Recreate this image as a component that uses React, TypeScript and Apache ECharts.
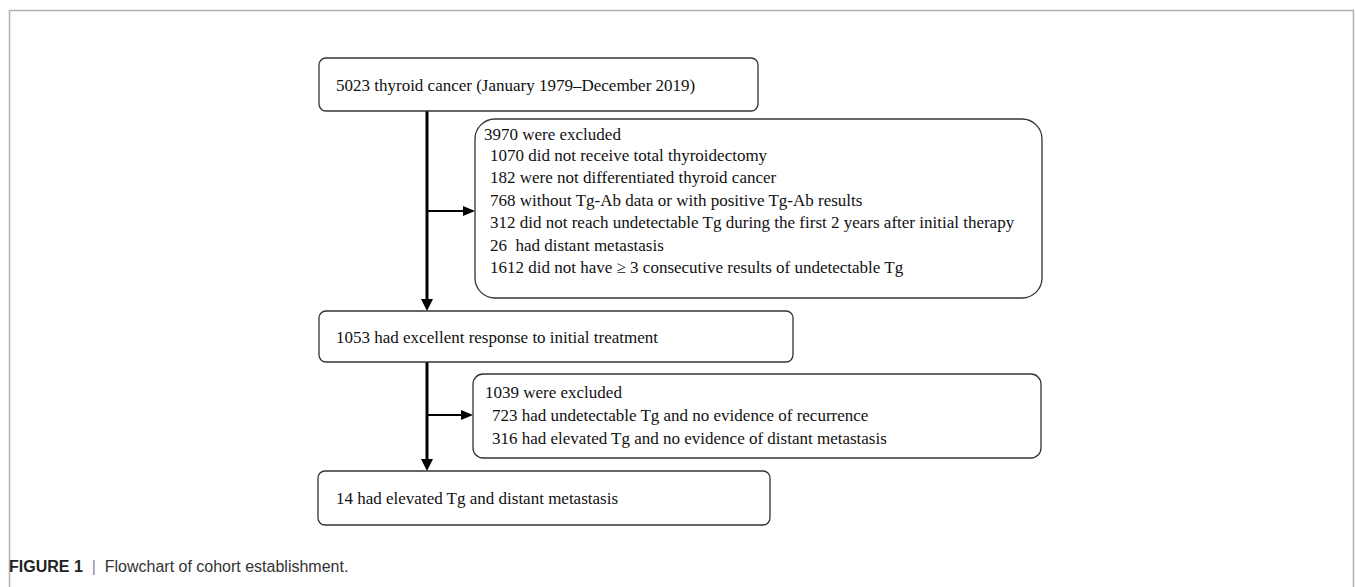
import React, { useEffect, useRef } from "react";
import * as echarts from "echarts";

const mainSteps = [
  "5023 thyroid cancer (January 1979\u2013December 2019)",
  "1053 had excellent response to initial treatment",
  "14 had elevated Tg and distant metastasis",
];

const exclusionTitles = ["3970 were excluded", "1039 were excluded"];

const exclusion1Items = [
  "1070 did not receive total thyroidectomy",
  "182 were not differentiated thyroid cancer",
  "768 without Tg-Ab data or with positive Tg-Ab results",
  "312 did not reach undetectable Tg during the first 2 years after initial therapy",
  "26  had distant metastasis",
  "1612 did not have \u2265 3 consecutive results of undetectable Tg",
];

const exclusion2Items = [
  "723 had undetectable Tg and no evidence of recurrence",
  "316 had elevated Tg and no evidence of distant metastasis",
];

const captionLabel = "FIGURE 1";
const captionText = "Flowchart of cohort establishment.";

const SERIF = "'Liberation Serif', 'Times New Roman', serif";
const SANS = "'Liberation Sans', Arial, sans-serif";
const INK = "#111";

export default function App() {
  const ref = useRef<HTMLDivElement>(null);

  useEffect(() => {
    if (!ref.current) return;
    const chart = echarts.init(ref.current, null, { renderer: "svg" });

    const box = (x: number, y: number, w: number, h: number, r: number) => ({
      type: "rect",
      shape: { x, y, width: w, height: h, r },
      style: { fill: "#fff", stroke: "#333", lineWidth: 1.3 },
    });
    const txt = (x: number, y: number, s: string) => ({
      type: "text",
      x,
      y,
      style: { text: s, font: `17px ${SERIF}`, fill: INK, verticalAlign: "middle" },
    });
    const vline = (x: number, y1: number, y2: number) => ({
      type: "line",
      shape: { x1: x, y1, x2: x, y2 },
      style: { stroke: "#000", lineWidth: 3 },
    });
    const hline = (x1: number, x2: number, y: number) => ({
      type: "line",
      shape: { x1, y1: y, x2, y2: y },
      style: { stroke: "#000", lineWidth: 2 },
    });
    const downHead = (x: number, y: number) => ({
      type: "polygon",
      shape: { points: [[x - 6, y - 12], [x + 6, y - 12], [x, y]] },
      style: { fill: "#000" },
    });
    const rightHead = (x: number, y: number) => ({
      type: "polygon",
      shape: { points: [[x - 12, y - 5], [x - 12, y + 5], [x, y]] },
      style: { fill: "#000" },
    });

    const elements: any[] = [];
    // frame
    elements.push({
      type: "polyline",
      shape: { points: [[9.5, 587], [9.5, 10.5], [1353.5, 10.5], [1353.5, 587]] },
      style: { stroke: "#b0b0b0", lineWidth: 1.5, fill: null },
    });

    // connectors
    elements.push(vline(427, 111, 300));
    elements.push(downHead(427, 311));
    elements.push(hline(427, 464, 211));
    elements.push(rightHead(475, 211));
    elements.push(vline(427, 362, 460));
    elements.push(downHead(427, 471));
    elements.push(hline(427, 462, 415));
    elements.push(rightHead(473, 415));

    // main boxes
    elements.push(box(319, 58, 439, 53, 7));
    elements.push(txt(336, 85, mainSteps[0]));
    elements.push(box(319, 311, 474, 51, 7));
    elements.push(txt(336, 337, mainSteps[1]));
    elements.push(box(318, 471, 452, 54, 7));
    elements.push(txt(336, 498, mainSteps[2]));

    // exclusion box 1
    elements.push(box(475, 119, 567, 179, 20));
    elements.push(txt(484, 134, exclusionTitles[0]));
    exclusion1Items.forEach((s, i) => {
      elements.push(txt(490, 155 + i * 22.5, s));
    });

    // exclusion box 2
    elements.push(box(473, 374, 568, 84, 10));
    elements.push(txt(485, 392, exclusionTitles[1]));
    exclusion2Items.forEach((s, i) => {
      elements.push(txt(492, 415 + i * 23, s));
    });

    // caption
    elements.push({
      type: "text",
      x: 9,
      y: 566,
      style: {
        text: `{b|${captionLabel}}{s|  |  }{n|${captionText}}`,
        verticalAlign: "middle",
        rich: {
          b: { font: `bold 16px ${SANS}`, fill: "#222" },
          s: { font: `16px ${SANS}`, fill: "#888" },
          n: { font: `16px ${SANS}`, fill: "#333" },
        },
      },
    });

    chart.setOption({
      animation: false,
      backgroundColor: "#fff",
      graphic: { elements },
    });

    return () => chart.dispose();
  }, []);

  return (
    <div
      ref={ref}
      style={{ position: "absolute", left: 0, top: 0, width: 1355, height: 587 }}
    />
  );
}
